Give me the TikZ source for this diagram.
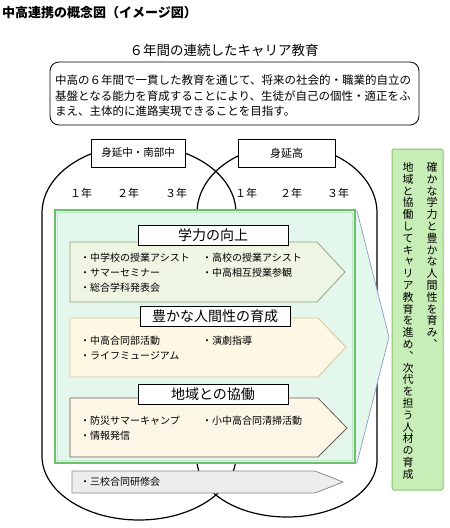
\documentclass[tikz,border=0pt]{standalone}
\usepackage{fontspec}
\setmainfont{Noto Sans CJK JP}
\newfontfamily\vjp[RawFeature=+vert]{Noto Sans CJK JP}
\ExplSyntaxOn
\cs_new:Npn \tatestack #1
  { \tl_map_inline:nn {#1} { \hbox_to_wd:nn {1em} { \hss ##1 \hss } } }
\ExplSyntaxOff
\newcommand\tatebox[1]{\vbox{\vjp\fontsize{11}{11.8}\selectfont\baselineskip=11.8pt\lineskiplimit=-20pt\tatestack{#1}}}
\definecolor{mint}{HTML}{E3F7EC}
\definecolor{arrowline}{HTML}{8C9CC8}
\definecolor{gboxline}{HTML}{6CBF6C}
\definecolor{gboxinner}{HTML}{BDE8C4}
\definecolor{pafill}{HTML}{EEF5E3}
\definecolor{paline}{HTML}{8FA882}
\definecolor{pbfill}{HTML}{FDF7E3}
\definecolor{pbline}{HTML}{D8C596}
\definecolor{pcfill}{HTML}{FBF6E6}
\definecolor{pcline}{HTML}{6E5F57}
\definecolor{pdfill}{HTML}{EDEDED}
\definecolor{pdline}{HTML}{8A8A8A}
\definecolor{rfill}{HTML}{C8EEB8}
\definecolor{rline}{HTML}{86C46A}
\begin{document}
\begin{tikzpicture}[x=1pt,y=-1pt,
  stad/.style={draw=black,line width=1.2pt},
  labelbox/.style={draw=black,fill=white,line width=0.7pt,inner sep=0pt},
  secbox/.style={labelbox,minimum width=150pt,minimum height=20pt,font=\fontsize{14}{16}\selectfont},
  itemtext/.style={anchor=west,inner sep=0pt,font=\fontsize{10}{12}\selectfont},
  yeartext/.style={inner sep=0pt,font=\fontsize{11}{12}\selectfont},
  bodytext/.style={anchor=west,inner sep=0pt,font=\fontsize{11.5}{14}\selectfont}]
\useasboundingbox (0,0) rectangle (450,528);
% title
\node[anchor=west,inner sep=0pt,font=\bfseries\fontsize{13}{15}\selectfont] (title) at (2,13) {中高連携の概念図（イメージ図）};
\node[inner sep=0pt,font=\fontsize{13.5}{15}\selectfont] (subtitle) at (224,50) {６年間の連続したキャリア教育};
% purpose box
\draw[line width=0.8pt,rounded corners=9pt] (50,62) rectangle (419,125);
\node[bodytext] (l1) at (55,80) {中高の６年間で一貫した教育を通じて、将来の社会的・職業的自立の};
\node[bodytext] (l2) at (55,96) {基盤となる能力を育成することにより、生徒が自己の個性・適正をふ};
\node[bodytext] (l3) at (55,111) {まえ、主体的に進路実現できることを目指す。};
% stadiums
\draw[stad] (42,213) .. controls (42,175.4) and (85.4,145) .. (139,145)
  .. controls (192.6,145) and (236,175.4) .. (236,213) -- (236,456)
  .. controls (236,491.3) and (192.6,520) .. (139,520)
  .. controls (85.4,520) and (42,491.3) .. (42,456) -- cycle;
\draw[stad] (197,213) .. controls (197,175.4) and (237.3,145) .. (287,145)
  .. controls (336.7,145) and (377,175.4) .. (377,213) -- (377,460)
  .. controls (377,491.5) and (336.7,517) .. (287,517)
  .. controls (237.3,517) and (197,491.5) .. (197,460) -- cycle;
\node[labelbox,minimum width=94pt,minimum height=28pt,font=\fontsize{10.5}{12}\selectfont] (jh) at (138,153) {身延中・南部中};
\node[labelbox,minimum width=97pt,minimum height=28pt,font=\fontsize{11}{12}\selectfont] (hs) at (286.5,153) {身延高};
% years
\node[yeartext] (y1) at (81,193) {１年};
\node[yeartext] (y2) at (128,193) {２年};
\node[yeartext] (y3) at (176,193) {３年};
\node[yeartext] (y4) at (246,193) {１年};
\node[yeartext] (y5) at (291,193) {２年};
\node[yeartext] (y6) at (338,193) {３年};
% big arrow and green box
\draw[fill=mint,draw=arrowline,line width=0.7pt] (55,211) -- (357,211) -- (389,337) -- (357,463) -- (55,463) -- cycle;
\draw[fill=mint,draw=gboxline,line width=1.2pt] (55,210) rectangle (355,463);
\draw[draw=gboxinner,line width=0.9pt] (57.5,212.5) rectangle (352.5,460.5);
% section 1
\draw[fill=pafill,draw=paline,line width=0.8pt] (70,242) -- (317,242) -- (345,272) -- (317,302) -- (70,302) -- cycle;
\node[secbox] (s1) at (213,235) {学力の向上};
\node[itemtext] (a1) at (80,258) {・中学校の授業アシスト};
\node[itemtext] (a2) at (202,258) {・高校の授業アシスト};
\node[itemtext] (a3) at (80,273) {・サマーセミナー};
\node[itemtext] (a4) at (202,273) {・中高相互授業参観};
\node[itemtext] (a5) at (80,288) {・総合学科発表会};
% section 2
\draw[fill=pbfill,draw=pbline,line width=0.8pt] (70,318) -- (318,318) -- (346,347) -- (318,377) -- (70,377) -- cycle;
\node[secbox] (s2) at (215,316) {豊かな人間性の育成};
\node[itemtext] (b1) at (80,341) {・中高合同部活動};
\node[itemtext] (b2) at (202,341) {・演劇指導};
\node[itemtext] (b3) at (80,356) {・ライフミュージアム};
% section 3
\draw[fill=pcfill,draw=pcline,line width=0.8pt] (70,398) -- (318,398) -- (347,428) -- (318,457) -- (70,457) -- cycle;
\node[secbox] (s3) at (213,394) {地域との協働};
\node[itemtext] (c1) at (80,421) {・防災サマーキャンプ};
\node[itemtext] (c2) at (202,421) {・小中高合同清掃活動};
\node[itemtext] (c3) at (80,436) {・情報発信};
% gray arrow
\draw[fill=pdfill,draw=pdline,line width=0.8pt] (72,471) -- (315,471) -- (343,482) -- (315,493) -- (72,493) -- cycle;
\node[itemtext] (d1) at (80,482) {・三校合同研修会};
% right box
\draw[fill=rfill,draw=rline,line width=1pt,rounded corners=1.5pt] (392,149) rectangle (443,490);
\node[anchor=north,inner sep=0pt] (r1) at (432,162) {\tatebox{確かな学力と豊かな人間性を育み、}};
\node[anchor=north,inner sep=0pt] (r2) at (408,162) {\tatebox{地域と協働してキャリア教育を進め、次代を担う人材の育成}};
\end{tikzpicture}
\end{document}
